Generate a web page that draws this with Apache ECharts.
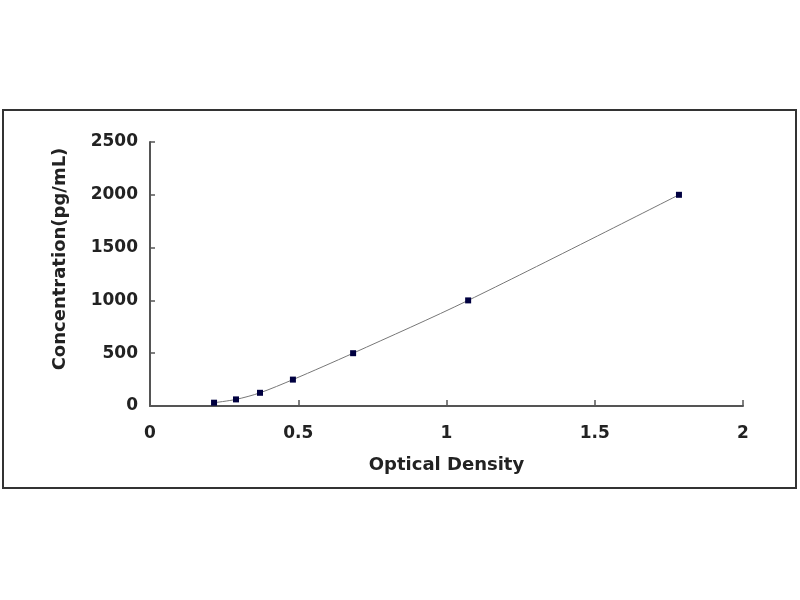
<!DOCTYPE html>
<html>
<head>
<meta charset="utf-8">
<script src="https://cdn.jsdelivr.net/npm/echarts@6/dist/echarts.min.js"></script>
<style>
  html,body{margin:0;padding:0;background:#fff;}
  #chart{width:800px;height:600px;}
</style>
</head>
<body>
<div id="chart"></div>
<script>
// standard curve: optical density vs concentration
const od = [0.216, 0.290, 0.371, 0.482, 0.685, 1.073, 1.784];
const conc = [31.25, 62.5, 125, 250, 500, 1000, 2000];
const xTicks = [0, 0.5, 1, 1.5, 2];
const yTicks = [0, 500, 1000, 1500, 2000, 2500];
const xTitle = 'Optical Density';
const yTitle = 'Concentration(pg/mL)';

const points = od.map((x, i) => [x, conc[i]]);
const FONT = 'DejaVu Sans, Liberation Sans, sans-serif';
const tick = {fontFamily: FONT, fontWeight: 'bold', fontSize: 17, color: '#222'};
const title = {fontFamily: FONT, fontWeight: 'bold', fontSize: 18, color: '#222'};

const chart = echarts.init(document.getElementById('chart'));
chart.setOption({
  animation: false,
  grid: {left: 150, right: 57, top: 142, bottom: 194},
  graphic: [{
    type: 'rect', silent: true,
    shape: {x: 3, y: 110, width: 793, height: 378},
    style: {fill: 'none', stroke: '#333', lineWidth: 2}
  }, {
    // y title sits a bit above the axis middle in the original
    type: 'text', silent: true, x: 60, y: 259, rotation: Math.PI / 2,
    style: {text: yTitle, align: 'center', verticalAlign: 'middle',
      fill: '#222', font: 'bold 18px ' + FONT}
  }],
  xAxis: {
    type: 'value', min: xTicks[0], max: xTicks[xTicks.length - 1], interval: 0.5,
    name: xTitle, nameLocation: 'middle', nameGap: 50,
    nameTextStyle: title,
    axisLine: {lineStyle: {color: '#555', width: 2}},
    axisTick: {inside: true, length: 6, lineStyle: {color: '#555', width: 1.5}},
    axisLabel: Object.assign({margin: 19, formatter: v => String(v)}, tick),
    splitLine: {show: false}
  },
  yAxis: {
    type: 'value', min: yTicks[0], max: yTicks[yTicks.length - 1], interval: 500,
    axisLine: {show: true, lineStyle: {color: '#555', width: 2}},
    axisTick: {show: true, inside: true, length: 5, lineStyle: {color: '#555', width: 1.5}},
    axisLabel: Object.assign({margin: 12, formatter: v => String(v)}, tick),
    splitLine: {show: false}
  },
  series: [{
    type: 'line',
    data: points,
    smooth: 0.3,
    symbol: 'rect',
    symbolSize: 6,
    itemStyle: {color: '#000040'},
    lineStyle: {color: '#777', width: 1}
  }]
});
</script>
</body>
</html>
